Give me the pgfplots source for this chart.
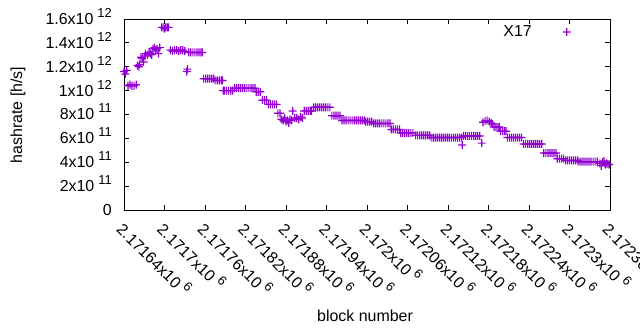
\documentclass[border=0pt]{standalone}
\usepackage{fontspec}
\setmainfont{Liberation Sans}
\usepackage{pgfplots}
\pgfplotsset{compat=1.18}
\definecolor{gpviolet}{RGB}{148,0,211}
\newcommand{\sx}[1]{\hspace{4bp}\raisebox{7bp}{\fontsize{13}{13}\selectfont #1}}
\newcommand{\lf}{\fontsize{16}{19}\selectfont}
\pgfdeclareplotmark{pplus}{%
  \pgfpathrectangle{\pgfpoint{-\pgfplotmarksize}{-0.6bp}}{\pgfpoint{2\pgfplotmarksize}{1.2bp}}%
  \pgfpathrectangle{\pgfpoint{-0.6bp}{-\pgfplotmarksize}}{\pgfpoint{1.2bp}{2\pgfplotmarksize}}%
  \pgfsetfillcolor{gpviolet}\pgfusepathqfill}
\begin{document}
\begin{tikzpicture}
\begin{axis}[
  at={(124bp,120bp)}, anchor=south west,
  scale only axis, width=486bp, height=191bp,
  xmin=2171640, xmax=2172360, ymin=0, ymax=1.6e12,
  scaled x ticks=false, scaled y ticks=false,
  clip=false,
  axis line style={line width=0.8bp},
  every tick/.style={line width=0.8bp, black},
  tick align=inside, major tick length=5bp,
  xtick pos=both, ytick pos=both,
  xtick={2171640,2171700,2171760,2171820,2171880,2171940,2172000,2172060,2172120,2172180,2172240,2172300,2172360},
  xticklabels={2.17164x10\sx{6},2.1717x10\sx{6},2.17176x10\sx{6},2.17182x10\sx{6},2.17188x10\sx{6},2.17194x10\sx{6},2.172x10\sx{6},2.17206x10\sx{6},2.17212x10\sx{6},2.17218x10\sx{6},2.17224x10\sx{6},2.1723x10\sx{6},2.17236x10\sx{6}},
  ytick={0,2e11,4e11,6e11,8e11,1e12,1.2e12,1.4e12,1.6e12},
  yticklabels={0,2x10\sx{11},4x10\sx{11},6x10\sx{11},8x10\sx{11},1x10\sx{12},1.2x10\sx{12},1.4x10\sx{12},1.6x10\sx{12}},
  xticklabel style={font=\lf, inner sep=0pt, xshift=3bp, yshift=-9bp, rotate=-45, anchor=north west},
  yticklabel style={font=\lf, inner sep=0pt, anchor=base east, xshift=-12bp, yshift=-5.5bp},
  legend plot pos=right,
  legend image code/.code={\draw[gpviolet, fill=gpviolet, mark=pplus, mark size=4bp] plot coordinates {(0cm,0cm)};},
  legend style={draw=none, fill=none, font=\lf, inner sep=0pt, column sep=31bp,
    nodes={inner sep=0pt}, at={(axis description cs:0.9198,0.932)}, anchor=east},
]
\addplot[only marks, mark=pplus, mark size=4bp, color=gpviolet, fill=gpviolet, mark options={fill=gpviolet}] coordinates {
(2171640,1.16e12) (2171642,1.14e12) (2171644,1.17e12)
(2171646,1.04e12) (2171649,1.05e12) (2171652,1.04e12) (2171655,1.04e12) (2171658,1.05e12)
(2171660,1.21e12) (2171662,1.20e12) (2171663,1.22e12)
(2171665,1.28e12) (2171667,1.27e12) (2171669,1.24e12) (2171671,1.29e12)
(2171672,1.31e12) (2171675,1.30e12) (2171677,1.32e12) (2171679,1.31e12) (2171681,1.30e12)
(2171683,1.35e12) (2171685,1.36e12) (2171687,1.34e12) (2171689,1.35e12) (2171691,1.31e12) (2171693,1.36e12)
(2171696,1.53e12) (2171698,1.53e12) (2171700,1.52e12) (2171702,1.53e12) (2171704,1.53e12) (2171706,1.53e12)
(2171709,1.34e12) (2171712,1.33e12) (2171715,1.34e12) (2171718,1.34e12) (2171721,1.33e12) (2171724,1.34e12) (2171727,1.34e12) (2171730,1.33e12)
(2171733,1.16e12) (2171734,1.18e12)
(2171736,1.32e12) (2171739,1.32e12) (2171742,1.32e12) (2171745,1.32e12) (2171748,1.32e12) (2171751,1.32e12) (2171754,1.32e12) (2171756,1.32e12)
(2171758,1.10e12) (2171761,1.10e12) (2171764,1.10e12) (2171767,1.10e12) (2171770,1.10e12) (2171773,1.10e12)
(2171775,1.085e12) (2171778,1.085e12) (2171781,1.085e12) (2171784,1.085e12) (2171786,1.085e12)
(2171787,1.00e12)
(2171789,1.00e12) (2171792,1.00e12) (2171795,1.00e12) (2171798,1.00e12) (2171801,1.00e12)
(2171804,1.02e12) (2171807,1.02e12) (2171810,1.02e12) (2171813,1.02e12) (2171816,1.02e12) (2171819,1.02e12) (2171822,1.02e12) (2171825,1.02e12) (2171828,1.02e12) (2171831,1.02e12) (2171834,1.02e12)
(2171836,0.99e12) (2171839,0.99e12) (2171842,0.99e12)
(2171845,0.92e12) (2171848,0.92e12) (2171851,0.92e12)
(2171854,0.885e12) (2171857,0.885e12) (2171860,0.885e12) (2171863,0.885e12) (2171866,0.885e12)
(2171868,0.81e12) (2171871,0.81e12)
(2171873,0.76e12) (2171876,0.75e12) (2171878,0.77e12) (2171880,0.74e12) (2171882,0.75e12) (2171884,0.73e12) (2171886,0.76e12) (2171888,0.75e12)
(2171890,0.83e12)
(2171893,0.77e12) (2171896,0.77e12) (2171899,0.76e12) (2171902,0.78e12) (2171904,0.77e12)
(2171907,0.83e12) (2171910,0.83e12) (2171913,0.83e12) (2171916,0.83e12) (2171918,0.83e12)
(2171921,0.86e12) (2171924,0.86e12) (2171927,0.86e12) (2171930,0.86e12) (2171933,0.86e12) (2171936,0.86e12) (2171939,0.86e12) (2171942,0.86e12) (2171945,0.86e12)
(2171948,0.79e12) (2171951,0.79e12) (2171954,0.79e12) (2171957,0.79e12) (2171960,0.79e12)
(2171963,0.75e12) (2171966,0.75e12) (2171969,0.75e12) (2171972,0.75e12) (2171975,0.75e12) (2171978,0.75e12) (2171981,0.75e12) (2171984,0.75e12) (2171987,0.75e12) (2171990,0.75e12) (2171993,0.75e12) (2171996,0.75e12)
(2171998,0.74e12) (2172001,0.74e12) (2172004,0.74e12) (2172007,0.74e12)
(2172010,0.725e12) (2172013,0.725e12) (2172016,0.725e12) (2172019,0.725e12) (2172022,0.725e12) (2172025,0.725e12) (2172028,0.725e12) (2172031,0.725e12) (2172034,0.725e12)
(2172036,0.675e12) (2172039,0.675e12) (2172042,0.675e12) (2172045,0.675e12) (2172048,0.675e12)
(2172050,0.645e12) (2172053,0.645e12) (2172056,0.645e12) (2172059,0.645e12) (2172062,0.645e12) (2172065,0.645e12) (2172068,0.645e12)
(2172072,0.625e12) (2172075,0.625e12) (2172078,0.625e12) (2172081,0.625e12) (2172084,0.625e12) (2172087,0.625e12) (2172090,0.625e12) (2172093,0.625e12)
(2172095,0.607e12) (2172098,0.607e12) (2172101,0.607e12) (2172104,0.607e12) (2172107,0.607e12) (2172110,0.607e12) (2172113,0.607e12) (2172116,0.607e12) (2172119,0.607e12) (2172122,0.607e12) (2172125,0.607e12) (2172128,0.607e12) (2172131,0.607e12) (2172134,0.607e12) (2172137,0.607e12) (2172140,0.607e12)
(2172141,0.545e12)
(2172143,0.62e12) (2172146,0.62e12) (2172149,0.62e12) (2172152,0.62e12) (2172155,0.62e12) (2172158,0.62e12) (2172161,0.62e12) (2172164,0.62e12) (2172167,0.62e12)
(2172170,0.56e12)
(2172172,0.735e12) (2172175,0.745e12) (2172178,0.75e12) (2172181,0.74e12) (2172184,0.73e12) (2172186,0.72e12)
(2172188,0.695e12) (2172191,0.695e12) (2172194,0.695e12) (2172196,0.695e12)
(2172198,0.66e12) (2172201,0.66e12) (2172204,0.66e12) (2172206,0.66e12)
(2172208,0.607e12) (2172211,0.607e12) (2172214,0.607e12) (2172217,0.607e12) (2172220,0.607e12) (2172223,0.607e12) (2172226,0.607e12) (2172229,0.607e12)
(2172232,0.553e12) (2172235,0.553e12) (2172238,0.553e12) (2172241,0.553e12) (2172244,0.553e12) (2172247,0.553e12) (2172250,0.553e12) (2172253,0.553e12) (2172256,0.553e12) (2172259,0.553e12)
(2172262,0.477e12) (2172265,0.477e12) (2172268,0.477e12) (2172271,0.477e12) (2172274,0.477e12) (2172277,0.477e12) (2172280,0.477e12)
(2172282,0.43e12) (2172285,0.43e12) (2172288,0.43e12) (2172291,0.43e12)
(2172294,0.415e12) (2172297,0.415e12) (2172300,0.415e12) (2172303,0.415e12) (2172306,0.415e12) (2172309,0.415e12) (2172312,0.415e12)
(2172314,0.405e12) (2172317,0.405e12) (2172320,0.405e12) (2172323,0.405e12) (2172326,0.405e12) (2172329,0.405e12) (2172332,0.405e12) (2172335,0.405e12) (2172338,0.405e12) (2172341,0.405e12)
(2172345,0.39e12) (2172347,0.37e12) (2172349,0.40e12) (2172351,0.41e12) (2172353,0.38e12) (2172355,0.39e12)
(2172357,0.385e12) (2172359,0.38e12)
};
\addlegendentry{X17}
\end{axis}
\node[font=\lf, rotate=90] at (18bp,215bp) {hashrate [h/s]};
\node[font=\lf] at (365bp,14bp) {block number};
\pgfresetboundingbox
\path[use as bounding box] (0,0) rectangle (640bp,330bp);
\end{tikzpicture}
\end{document}
